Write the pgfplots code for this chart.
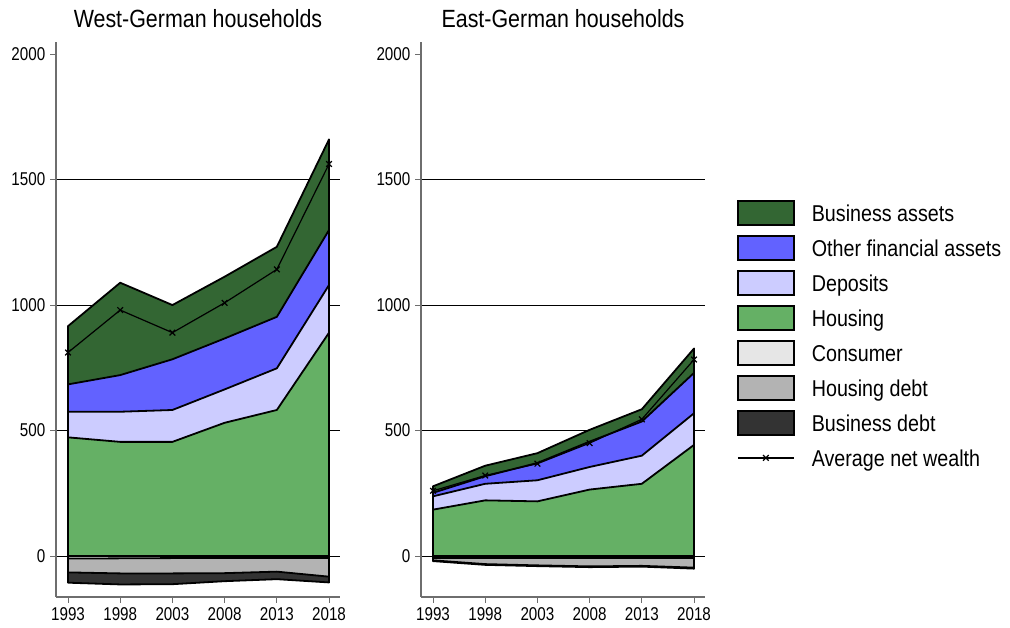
\documentclass[border=0pt]{standalone}
\usepackage{fontspec}
\setmainfont{Liberation Sans}[FakeStretch=0.86]
\newfontfamily\tickfont{Liberation Sans}[FakeStretch=0.82]
\usepackage{pgfplots}
\usepackage{pgfplotstable}
\pgfplotsset{compat=1.18}

\definecolor{bizasset}{RGB}{51,102,51}
\definecolor{otherfin}{RGB}{98,98,255}
\definecolor{deposits}{RGB}{204,204,255}
\definecolor{housing}{RGB}{101,176,101}
\definecolor{consumer}{RGB}{230,230,230}
\definecolor{housdebt}{RGB}{179,179,179}
\definecolor{bizdebt}{RGB}{51,51,51}
\definecolor{axisgray}{RGB}{110,110,110}

% Upper edge of each stacked layer (thousand euro), cumulative from zero
\pgfplotstableread{
year housing deposits otherfin business networth consumer housdebt bizdebt
1993 473 575 684  916  811 -10 -65 -106
1998 455 575 721 1089  980  -9 -69 -113
2003 455 582 784 1000  890  -8 -69 -112
2008 531 664 867 1113 1009  -8 -68 -100
2013 582 748 953 1232 1142  -8 -62  -92
2018 890 1080 1299 1660 1562 -8 -82 -105
}\west

\pgfplotstableread{
year housing deposits otherfin business networth consumer housdebt bizdebt
1993 185 238 252 278 260 -8 -17 -20
1998 222 288 318 360 321 -8 -32 -35
2003 218 302 371 410 368 -8 -37 -40
2008 265 355 456 503 450 -8 -41 -44
2013 288 400 536 585 545 -8 -39 -42
2018 443 569 730 827 783 -8 -46 -50
}\east

\pgfplotsset{
  layer/.style={draw=black, line width=1.8bp, line join=round, forget plot},
  netline/.style={black, line width=1.2bp, mark=x, mark size=4bp,
    mark options={line width=1.2bp}},
  boxleg/.style={legend image code/.code={%
    \draw[##1, line width=1.8bp] (0bp,-12bp) rectangle (56bp,12bp);}},
  lineleg/.style={legend image code/.code={%
    \path[draw=none, fill=none] (0bp,-12.9bp) rectangle (56bp,12.9bp);
    \draw[##1, mark repeat=2, mark phase=2]
      plot coordinates {(0bp,0bp) (28bp,0bp) (56bp,0bp)};}},
  panel/.style={
    set layers,
    scale only axis, width=284bp, height=555bp,
    xmin=1991.85, xmax=2019.05, ymin=-163, ymax=2048,
    axis x line*=bottom, axis y line*=left,
    axis line style={-, axisgray, line width=1.2bp},
    xtick={1993,1998,...,2018}, ytick={0,500,...,2000},
    tick align=outside, major tick length=6bp,
    tick style={axisgray, line width=1bp},
    extra y ticks={0,500,1000,1500}, extra y tick labels={},
    extra y tick style={grid=major, major tick length=0pt},
    grid style={black, line width=0.8bp},
    ticklabel style={font=\tickfont\fontsize{18.6}{22}\selectfont, inner sep=4.5bp},
    /pgf/number format/1000 sep=,
    /pgf/number format/assume math mode=true,
    every axis title shift=0pt,
    title style={font=\fontsize{25}{30}\selectfont, at={(0.5,1)},
      anchor=base, yshift=14bp, inner sep=0pt},
  },
}

\begin{document}
\begin{tikzpicture}

% West
\begin{axis}[panel, at={(56bp,31bp)}, anchor=south west,
  title={West-German households}]
  \addplot[layer, fill=bizasset] table[x=year, y=business] {\west} \closedcycle;
  \addplot[layer, fill=otherfin] table[x=year, y=otherfin] {\west} \closedcycle;
  \addplot[layer, fill=deposits] table[x=year, y=deposits] {\west} \closedcycle;
  \addplot[layer, fill=housing]  table[x=year, y=housing]  {\west} \closedcycle;
  \addplot[layer, fill=bizdebt]  table[x=year, y=bizdebt]  {\west} \closedcycle;
  \addplot[layer, fill=housdebt] table[x=year, y=housdebt] {\west} \closedcycle;
  \addplot[layer, fill=consumer] table[x=year, y=consumer] {\west} \closedcycle;
  \addplot[netline, forget plot] table[x=year, y=networth] {\west};
\end{axis}

% East
\begin{axis}[panel, at={(421bp,31bp)}, anchor=south west,
  title={East-German households},
  legend style={at={(axis description cs:1.1127,0.7153)}, anchor=north west,
    draw=none, fill=none, inner sep=0pt, outer sep=0pt,
    row sep=9.2bp, column sep=17bp,
    font=\fontsize{23}{27}\selectfont,
    nodes={inner sep=0pt, text height=16.5bp, text depth=0bp}},
  legend cell align=left]
  \addplot[layer, fill=bizasset] table[x=year, y=business] {\east} \closedcycle;
  \addplot[layer, fill=otherfin] table[x=year, y=otherfin] {\east} \closedcycle;
  \addplot[layer, fill=deposits] table[x=year, y=deposits] {\east} \closedcycle;
  \addplot[layer, fill=housing]  table[x=year, y=housing]  {\east} \closedcycle;
  \addplot[layer, fill=bizdebt]  table[x=year, y=bizdebt]  {\east} \closedcycle;
  \addplot[layer, fill=housdebt] table[x=year, y=housdebt] {\east} \closedcycle;
  \addplot[layer, fill=consumer] table[x=year, y=consumer] {\east} \closedcycle;
  \addplot[netline, forget plot] table[x=year, y=networth] {\east};

  \addlegendimage{boxleg, draw=black, fill=bizasset}
  \addlegendentry{Business assets}
  \addlegendimage{boxleg, draw=black, fill=otherfin}
  \addlegendentry{Other financial assets}
  \addlegendimage{boxleg, draw=black, fill=deposits}
  \addlegendentry{Deposits}
  \addlegendimage{boxleg, draw=black, fill=housing}
  \addlegendentry{Housing}
  \addlegendimage{boxleg, draw=black, fill=consumer}
  \addlegendentry{Consumer}
  \addlegendimage{boxleg, draw=black, fill=housdebt}
  \addlegendentry{Housing debt}
  \addlegendimage{boxleg, draw=black, fill=bizdebt}
  \addlegendentry{Business debt}
  \addlegendimage{lineleg, netline}
  \addlegendentry{Average net wealth}
\end{axis}

% fixed page frame
\pgfresetboundingbox
\path[use as bounding box] (0,0) rectangle (1010bp,628bp);
\end{tikzpicture}
\end{document}
